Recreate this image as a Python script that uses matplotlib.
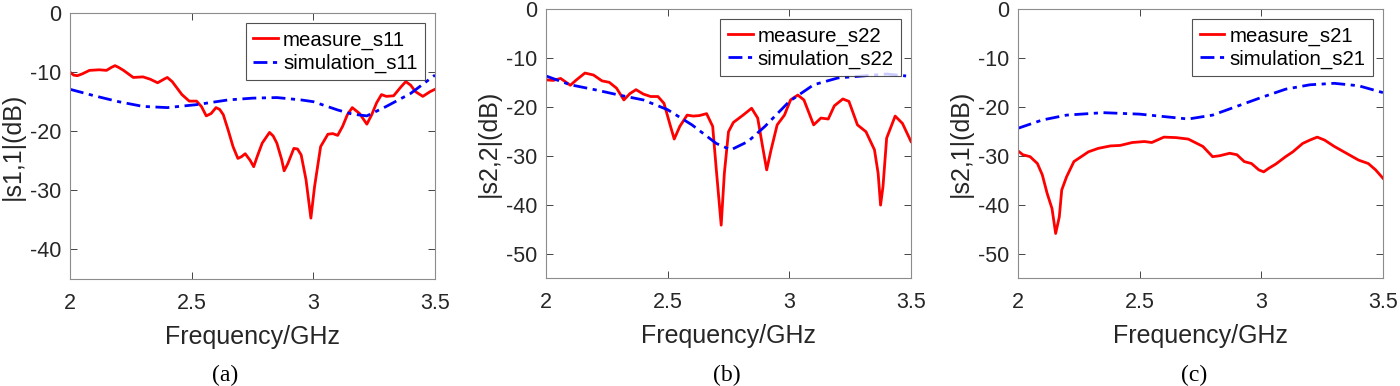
import numpy as np
import matplotlib.pyplot as plt

plt.rcParams['font.family'] = ['Liberation Sans', 'DejaVu Sans']
plt.rcParams['axes.unicode_minus'] = False

# (a) s11
f_meas11 = [2.0, 2.015, 2.03, 2.05, 2.08, 2.12, 2.15, 2.17, 2.185, 2.20, 2.22, 2.26, 2.30, 2.33, 2.36,
            2.39, 2.40, 2.42, 2.46, 2.49, 2.52, 2.54, 2.56, 2.58, 2.60, 2.615, 2.63, 2.65, 2.67, 2.69,
            2.705, 2.72, 2.74, 2.755, 2.77, 2.79, 2.82, 2.835, 2.85, 2.87, 2.88, 2.895, 2.92, 2.935,
            2.95, 2.97, 2.99, 3.005, 3.03, 3.06, 3.08, 3.10, 3.12, 3.14, 3.16, 3.19, 3.22, 3.24, 3.26,
            3.28, 3.30, 3.33, 3.36, 3.38, 3.40, 3.42, 3.45, 3.48, 3.50]
meas_s11 = [-10.0, -10.5, -10.6, -10.3, -9.7, -9.6, -9.7, -9.2, -8.9, -9.2, -9.7, -10.9, -10.8, -11.2, -11.8,
            -11.1, -10.9, -11.6, -13.8, -14.9, -14.9, -15.8, -17.4, -17.0, -16.0, -16.3, -17.2, -19.8, -22.6, -24.6,
            -24.3, -23.8, -24.9, -26.0, -24.2, -22.0, -20.2, -20.8, -22.0, -24.8, -26.7, -25.5, -22.9, -23.0,
            -24.0, -28.2, -34.7, -29.4, -22.6, -20.5, -20.4, -20.7, -19.2, -17.2, -16.0, -17.0, -18.8, -17.2, -15.2,
            -13.8, -14.1, -14.0, -12.5, -11.6, -12.2, -13.3, -14.1, -13.3, -12.9]
f_sim11 = [2.0, 2.1, 2.2, 2.3, 2.4, 2.52, 2.65, 2.75, 2.85, 2.95, 3.0, 3.1, 3.16, 3.22, 3.3, 3.4, 3.5]
sim_s11 = [-12.9, -14.0, -15.0, -15.8, -16.0, -15.5, -14.7, -14.4, -14.3, -14.7, -15.0, -16.4, -17.1, -17.4,
           -15.8, -13.6, -10.5]

# (b) s22
f_meas22 = [2.0, 2.03, 2.06, 2.10, 2.125, 2.16, 2.195, 2.23, 2.26, 2.29, 2.32, 2.345, 2.37, 2.40, 2.43,
            2.46, 2.485, 2.51, 2.527, 2.55, 2.58, 2.605, 2.63, 2.66, 2.685, 2.70, 2.72, 2.733, 2.75, 2.77,
            2.81, 2.845, 2.87, 2.89, 2.907, 2.925, 2.95, 2.98, 3.005, 3.035, 3.06, 3.10, 3.13, 3.16, 3.185,
            3.22, 3.245, 3.28, 3.315, 3.35, 3.365, 3.375, 3.385, 3.40, 3.435, 3.465, 3.50]
meas_s22 = [-14.5, -14.6, -14.2, -15.6, -14.5, -13.1, -13.5, -14.7, -15.0, -16.2, -18.6, -17.3, -16.5, -17.4, -17.9,
            -17.9, -19.3, -23.7, -26.6, -24.0, -21.7, -21.9, -21.8, -21.4, -24.0, -32.9, -44.2, -33.6, -25.1, -23.2,
            -21.7, -20.3, -22.3, -28.1, -32.9, -28.8, -23.7, -21.7, -18.6, -17.6, -18.6, -23.7, -22.3, -22.5, -19.8,
            -18.4, -18.9, -23.7, -25.1, -28.8, -33.6, -40.1, -36.3, -26.4, -21.9, -23.4, -27.1]
f_sim22 = [2.0, 2.1, 2.2, 2.3, 2.4, 2.5, 2.6, 2.7, 2.76, 2.83, 2.9, 3.0, 3.1, 3.2, 3.3, 3.4, 3.48]
sim_s22 = [-13.7, -15.5, -16.5, -17.6, -18.6, -20.6, -23.7, -27.5, -28.8, -27.1, -24.0, -18.9, -15.5, -14.1,
           -13.7, -13.3, -13.7]

# (c) s21
f_meas21 = [2.0, 2.02, 2.05, 2.08, 2.1, 2.12, 2.14, 2.155, 2.17, 2.18, 2.2, 2.23, 2.26, 2.29, 2.33, 2.38,
            2.42, 2.47, 2.52, 2.55, 2.6, 2.65, 2.7, 2.76, 2.8, 2.83, 2.87, 2.9, 2.93, 2.96, 2.99, 3.01,
            3.03, 3.06, 3.1, 3.13, 3.17, 3.2, 3.23, 3.26, 3.3, 3.35, 3.4, 3.44, 3.47, 3.5]
meas_s21 = [-29.0, -29.8, -30.2, -31.6, -33.9, -37.7, -40.8, -45.9, -42.5, -37.0, -34.3, -31.2, -30.2, -29.2,
            -28.5, -28.0, -27.9, -27.3, -27.1, -27.3, -26.2, -26.3, -26.6, -28.1, -30.2, -30.0, -29.5, -29.8,
            -31.2, -31.6, -32.9, -33.3, -32.6, -31.7, -30.2, -29.2, -27.5, -26.8, -26.2, -26.8, -28.1, -29.5,
            -30.9, -31.6, -32.9, -34.6]
f_sim21 = [2.0, 2.1, 2.2, 2.35, 2.5, 2.6, 2.7, 2.8, 2.9, 3.0, 3.1, 3.2, 3.3, 3.4, 3.5]
sim_s21 = [-24.4, -22.7, -21.7, -21.2, -21.5, -22.0, -22.5, -21.7, -19.9, -18.1, -16.4, -15.5, -15.2, -15.7, -17.1]

panels = [
    (f_meas11, meas_s11, f_sim11, sim_s11, 'measure_s11', 'simulation_s11', '|s1,1|(dB)', (-45, 0), '(a)'),
    (f_meas22, meas_s22, f_sim22, sim_s22, 'measure_s22', 'simulation_s22', '|s2,2|(dB)', (-55, 0), '(b)'),
    (f_meas21, meas_s21, f_sim21, sim_s21, 'measure_s21', 'simulation_s21', '|s2,1|(dB)', (-55, 0), '(c)'),
]
lefts = [0.05, 0.39, 0.7271]
bottoms = [0.2772, 0.2798, 0.2798]
heights = [0.689, 0.697, 0.697]
cap_x = [225 / 1400, 727 / 1400, 1194 / 1400]

fig = plt.figure(figsize=(14, 3.86), dpi=100)
for i, (fm, ym, fs, ys, lm, ls, ylab, ylim, cap) in enumerate(panels):
    ax = fig.add_axes([lefts[i], bottoms[i], 0.2607, heights[i]])
    ax.plot(fm, ym, color='red', lw=2.0, label=lm, solid_joinstyle='round')
    ax.plot(fs, ys, color='blue', lw=2.0, ls=(0, (5, 2, 1.5, 2)), label=ls)
    ax.set_xlim(2, 3.5)
    ax.set_ylim(*ylim)
    ax.set_xticks([2, 2.5, 3, 3.5])
    ax.set_xticklabels(['2', '2.5', '3', '3.5'])
    ax.set_yticks(np.arange(ylim[0] // 10 * 10 + 10, 1, 10))
    ax.tick_params(direction='in', top=True, right=True, labelsize=15.5, colors='#262626',
                   length=5, width=0.6)
    ax.tick_params(axis='x', pad=10)
    ax.tick_params(axis='y', pad=6)
    for s in ax.spines.values():
        s.set_color('#8c8c8c')
        s.set_linewidth(0.8)
    ax.set_xlabel('Frequency/GHz', fontsize=18, color='#262626', labelpad=8)
    ax.set_ylabel(ylab, fontsize=18, color='#262626', labelpad=4)
    leg = ax.legend(loc='upper right', fontsize=14.7, frameon=True, fancybox=False,
                    borderaxespad=0.5, handlelength=1.22, handletextpad=0.25,
                    borderpad=0.35, labelspacing=0.2)
    leg.get_frame().set_edgecolor('#262626')
    leg.get_frame().set_linewidth(0.8)
    fig.text(cap_x[i], 1 - 375 / 386, cap, ha='center', va='center',
             fontsize=17, family='Liberation Serif')

fig.savefig('out.png', dpi=100)
